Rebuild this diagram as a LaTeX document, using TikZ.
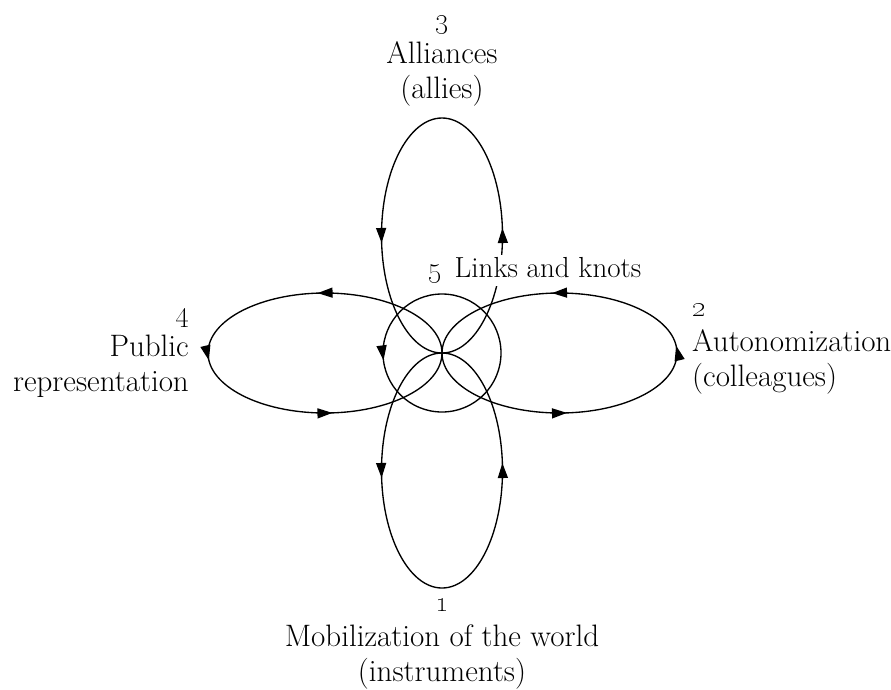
\documentclass[tikz,border=0pt]{standalone}
\usetikzlibrary{arrows.meta,decorations.markings}
\tikzset{
  curveline/.style={line width=1.35pt, black},
  arrowsat/.style={postaction={decorate, decoration={markings,
      mark=at position #1 with {\arrow{Triangle[length=15pt,width=10pt]}}}}},
  lbl/.style={inner sep=0pt, font=\fontsize{31}{35}\selectfont},
}
\begin{document}
\begin{tikzpicture}[x=1pt,y=1pt]
\useasboundingbox (0,0) rectangle (891,-689);
\coordinate (O) at (442,-353);
\coordinate (ctop) at (442,-235.5);
\coordinate (cbot) at (442,-470.5);
\coordinate (cleft) at (325,-353);
\coordinate (cright) at (559.5,-353);
% loops
\draw[curveline, arrowsat=0.013, arrowsat=0.513] (ctop) ellipse [x radius=60.5, y radius=117.5];
\draw[curveline, arrowsat=0.013, arrowsat=0.513] (cbot) ellipse [x radius=60.5, y radius=117.5];
\draw[curveline, arrowsat=0.263, arrowsat=0.513, arrowsat=0.763] (cleft) ellipse [x radius=117, y radius=60];
\draw[curveline, arrowsat=0.013, arrowsat=0.263, arrowsat=0.763] (cright) ellipse [x radius=117.5, y radius=60];
\draw[curveline, arrowsat=0.52] (O) circle [radius=59];
% labels
\node[inner sep=0pt, font=\fontsize{29}{34}\selectfont, fill=white, inner xsep=2pt, text height=22pt, text depth=9pt, anchor=base west] (links) at (426,-277) {\oldstylenums{5}\hspace{0.45em}Links and knots};
\node[lbl, align=center] (alliances) at (442,-61) {\oldstylenums{3}\\Alliances\\(allies)};
\node[lbl, align=right, anchor=east] (public) at (189,-353) {\oldstylenums{4}\\Public\\representation};
\node[lbl, align=left, anchor=west] (autonom) at (692,-349) {\oldstylenums{2}\\Autonomization\\(colleagues)};
\node[lbl, align=center] (mobil) at (442,-644) {\oldstylenums{1}\\Mobilization of the world\\(instruments)};
\end{tikzpicture}
\end{document}
